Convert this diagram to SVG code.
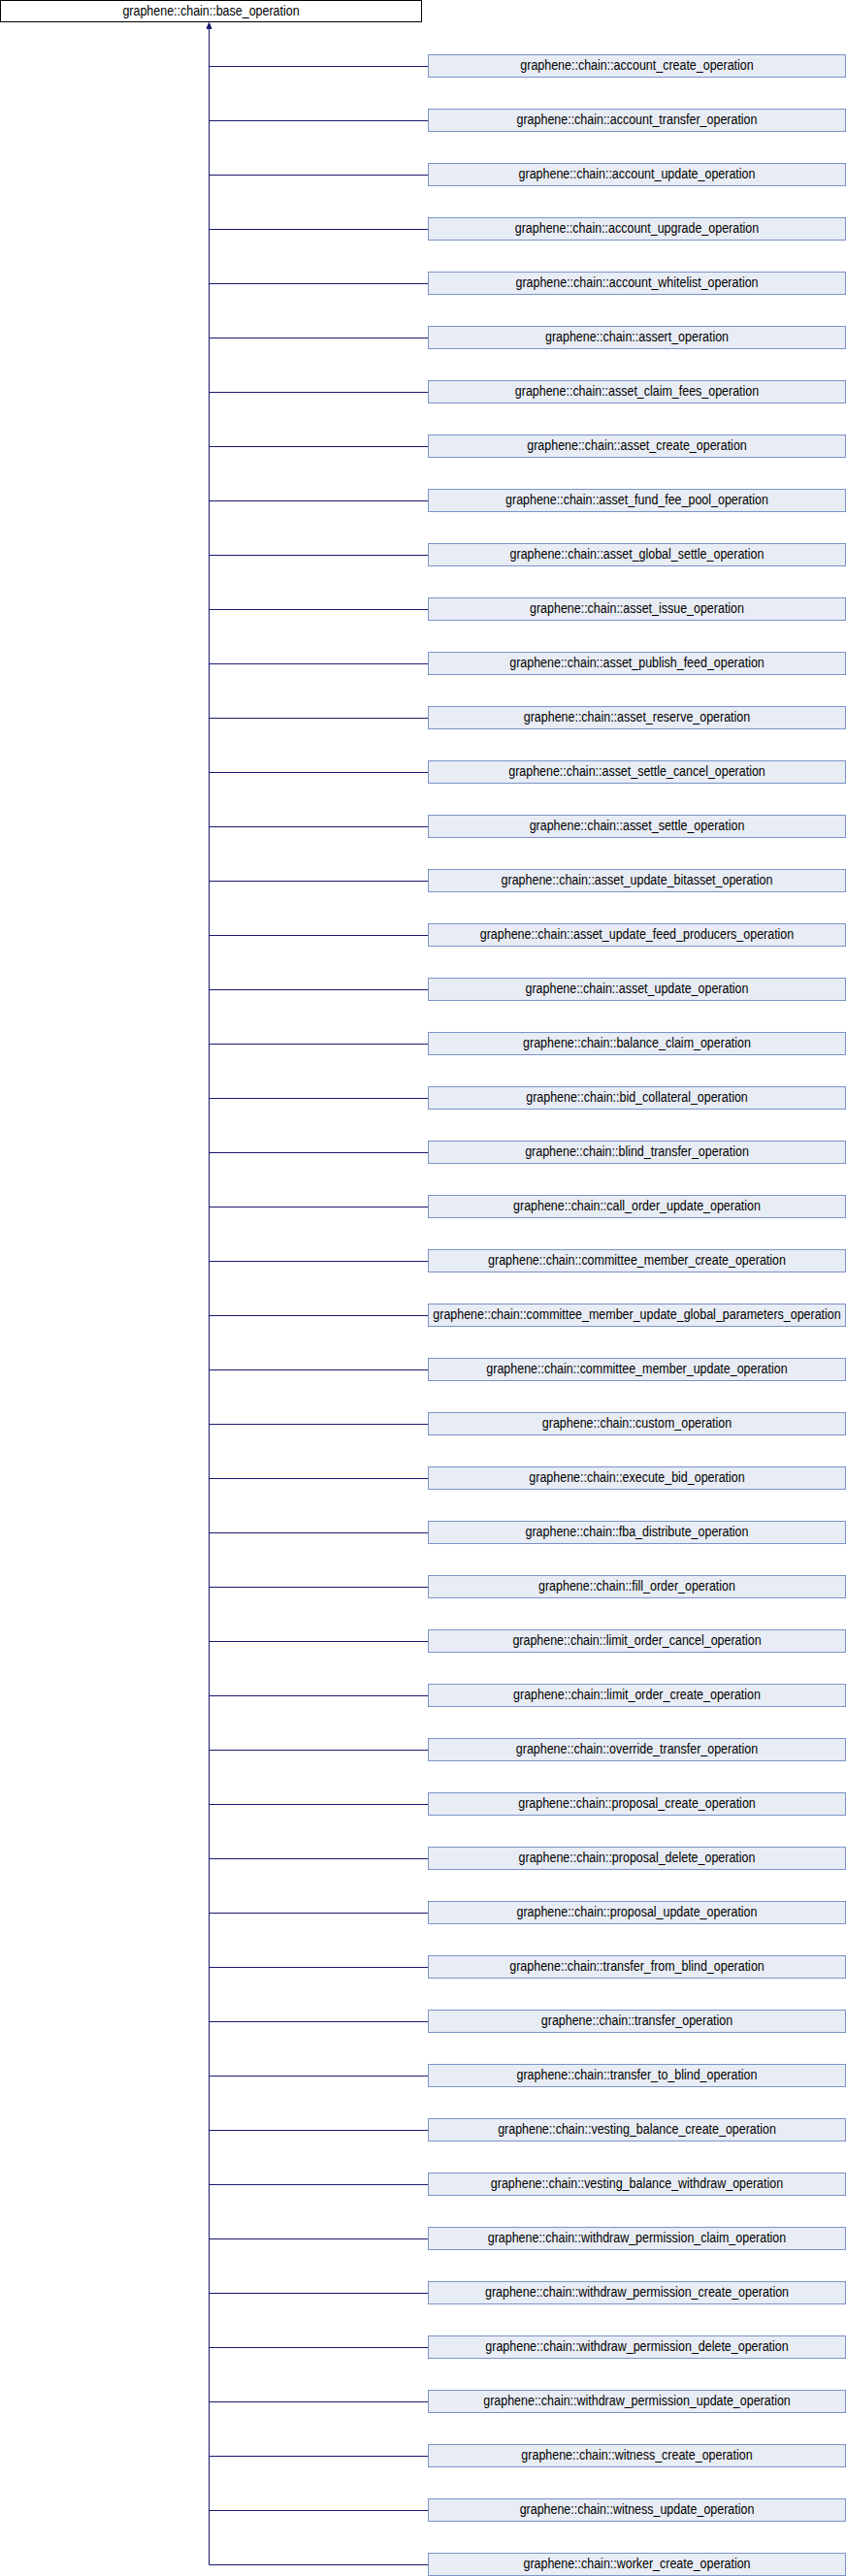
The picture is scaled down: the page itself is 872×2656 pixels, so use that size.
<svg xmlns="http://www.w3.org/2000/svg" width="872" height="2656" viewBox="0 0 872 2656">
<style>
.bg{fill:#ffffff}
.base rect{fill:#ffffff;stroke:#000000;stroke-width:1}
.node rect{fill:#e8ecf5;stroke:#7b93c9;stroke-width:1}
text{font-family:"Liberation Sans",Arial,sans-serif;font-size:14px;fill:#000000;text-anchor:middle}
.edges path{fill:none;stroke:#191970;stroke-width:1}
.edges polygon{fill:#191970;stroke:#191970;stroke-width:1}
</style>
<rect class="bg" x="0" y="0" width="872" height="2656"/>
<g class="edges" id="connectors">
<path d="M215.5 29V2644.5"/>
<polygon points="215.5,23.5 213,29.5 218,29.5"/>
<path d="M215.5 68.5H441M215.5 124.5H441M215.5 180.5H441M215.5 236.5H441M215.5 292.5H441M215.5 348.5H441M215.5 404.5H441M215.5 460.5H441M215.5 516.5H441M215.5 572.5H441M215.5 628.5H441M215.5 684.5H441M215.5 740.5H441M215.5 796.5H441M215.5 852.5H441M215.5 908.5H441M215.5 964.5H441M215.5 1020.5H441M215.5 1076.5H441M215.5 1132.5H441M215.5 1188.5H441M215.5 1244.5H441M215.5 1300.5H441M215.5 1356.5H441M215.5 1412.5H441M215.5 1468.5H441M215.5 1524.5H441M215.5 1580.5H441M215.5 1636.5H441M215.5 1692.5H441M215.5 1748.5H441M215.5 1804.5H441M215.5 1860.5H441M215.5 1916.5H441M215.5 1972.5H441M215.5 2028.5H441M215.5 2084.5H441M215.5 2140.5H441M215.5 2196.5H441M215.5 2252.5H441M215.5 2308.5H441M215.5 2364.5H441M215.5 2420.5H441M215.5 2476.5H441M215.5 2532.5H441M215.5 2588.5H441M215.5 2644.5H441"/>
</g>
<g id="base_operation" class="base" transform="translate(0.5,0.5)"><rect width="434" height="22"/><text transform="translate(217,15.5) scale(0.89,1)">graphene::chain::base_operation</text></g>
<g id="account_create_operation" class="node" transform="translate(441.5,56.5)"><rect width="430" height="23"/><text transform="translate(215,15.5) scale(0.89,1)">graphene::chain::account_create_operation</text></g>
<g id="account_transfer_operation" class="node" transform="translate(441.5,112.5)"><rect width="430" height="23"/><text transform="translate(215,15.5) scale(0.89,1)">graphene::chain::account_transfer_operation</text></g>
<g id="account_update_operation" class="node" transform="translate(441.5,168.5)"><rect width="430" height="23"/><text transform="translate(215,15.5) scale(0.89,1)">graphene::chain::account_update_operation</text></g>
<g id="account_upgrade_operation" class="node" transform="translate(441.5,224.5)"><rect width="430" height="23"/><text transform="translate(215,15.5) scale(0.89,1)">graphene::chain::account_upgrade_operation</text></g>
<g id="account_whitelist_operation" class="node" transform="translate(441.5,280.5)"><rect width="430" height="23"/><text transform="translate(215,15.5) scale(0.89,1)">graphene::chain::account_whitelist_operation</text></g>
<g id="assert_operation" class="node" transform="translate(441.5,336.5)"><rect width="430" height="23"/><text transform="translate(215,15.5) scale(0.89,1)">graphene::chain::assert_operation</text></g>
<g id="asset_claim_fees_operation" class="node" transform="translate(441.5,392.5)"><rect width="430" height="23"/><text transform="translate(215,15.5) scale(0.89,1)">graphene::chain::asset_claim_fees_operation</text></g>
<g id="asset_create_operation" class="node" transform="translate(441.5,448.5)"><rect width="430" height="23"/><text transform="translate(215,15.5) scale(0.89,1)">graphene::chain::asset_create_operation</text></g>
<g id="asset_fund_fee_pool_operation" class="node" transform="translate(441.5,504.5)"><rect width="430" height="23"/><text transform="translate(215,15.5) scale(0.89,1)">graphene::chain::asset_fund_fee_pool_operation</text></g>
<g id="asset_global_settle_operation" class="node" transform="translate(441.5,560.5)"><rect width="430" height="23"/><text transform="translate(215,15.5) scale(0.89,1)">graphene::chain::asset_global_settle_operation</text></g>
<g id="asset_issue_operation" class="node" transform="translate(441.5,616.5)"><rect width="430" height="23"/><text transform="translate(215,15.5) scale(0.89,1)">graphene::chain::asset_issue_operation</text></g>
<g id="asset_publish_feed_operation" class="node" transform="translate(441.5,672.5)"><rect width="430" height="23"/><text transform="translate(215,15.5) scale(0.89,1)">graphene::chain::asset_publish_feed_operation</text></g>
<g id="asset_reserve_operation" class="node" transform="translate(441.5,728.5)"><rect width="430" height="23"/><text transform="translate(215,15.5) scale(0.89,1)">graphene::chain::asset_reserve_operation</text></g>
<g id="asset_settle_cancel_operation" class="node" transform="translate(441.5,784.5)"><rect width="430" height="23"/><text transform="translate(215,15.5) scale(0.89,1)">graphene::chain::asset_settle_cancel_operation</text></g>
<g id="asset_settle_operation" class="node" transform="translate(441.5,840.5)"><rect width="430" height="23"/><text transform="translate(215,15.5) scale(0.89,1)">graphene::chain::asset_settle_operation</text></g>
<g id="asset_update_bitasset_operation" class="node" transform="translate(441.5,896.5)"><rect width="430" height="23"/><text transform="translate(215,15.5) scale(0.89,1)">graphene::chain::asset_update_bitasset_operation</text></g>
<g id="asset_update_feed_producers_operation" class="node" transform="translate(441.5,952.5)"><rect width="430" height="23"/><text transform="translate(215,15.5) scale(0.89,1)">graphene::chain::asset_update_feed_producers_operation</text></g>
<g id="asset_update_operation" class="node" transform="translate(441.5,1008.5)"><rect width="430" height="23"/><text transform="translate(215,15.5) scale(0.89,1)">graphene::chain::asset_update_operation</text></g>
<g id="balance_claim_operation" class="node" transform="translate(441.5,1064.5)"><rect width="430" height="23"/><text transform="translate(215,15.5) scale(0.89,1)">graphene::chain::balance_claim_operation</text></g>
<g id="bid_collateral_operation" class="node" transform="translate(441.5,1120.5)"><rect width="430" height="23"/><text transform="translate(215,15.5) scale(0.89,1)">graphene::chain::bid_collateral_operation</text></g>
<g id="blind_transfer_operation" class="node" transform="translate(441.5,1176.5)"><rect width="430" height="23"/><text transform="translate(215,15.5) scale(0.89,1)">graphene::chain::blind_transfer_operation</text></g>
<g id="call_order_update_operation" class="node" transform="translate(441.5,1232.5)"><rect width="430" height="23"/><text transform="translate(215,15.5) scale(0.89,1)">graphene::chain::call_order_update_operation</text></g>
<g id="committee_member_create_operation" class="node" transform="translate(441.5,1288.5)"><rect width="430" height="23"/><text transform="translate(215,15.5) scale(0.89,1)">graphene::chain::committee_member_create_operation</text></g>
<g id="committee_member_update_global_parameters_operation" class="node" transform="translate(441.5,1344.5)"><rect width="430" height="23"/><text transform="translate(215,15.5) scale(0.89,1)">graphene::chain::committee_member_update_global_parameters_operation</text></g>
<g id="committee_member_update_operation" class="node" transform="translate(441.5,1400.5)"><rect width="430" height="23"/><text transform="translate(215,15.5) scale(0.89,1)">graphene::chain::committee_member_update_operation</text></g>
<g id="custom_operation" class="node" transform="translate(441.5,1456.5)"><rect width="430" height="23"/><text transform="translate(215,15.5) scale(0.89,1)">graphene::chain::custom_operation</text></g>
<g id="execute_bid_operation" class="node" transform="translate(441.5,1512.5)"><rect width="430" height="23"/><text transform="translate(215,15.5) scale(0.89,1)">graphene::chain::execute_bid_operation</text></g>
<g id="fba_distribute_operation" class="node" transform="translate(441.5,1568.5)"><rect width="430" height="23"/><text transform="translate(215,15.5) scale(0.89,1)">graphene::chain::fba_distribute_operation</text></g>
<g id="fill_order_operation" class="node" transform="translate(441.5,1624.5)"><rect width="430" height="23"/><text transform="translate(215,15.5) scale(0.89,1)">graphene::chain::fill_order_operation</text></g>
<g id="limit_order_cancel_operation" class="node" transform="translate(441.5,1680.5)"><rect width="430" height="23"/><text transform="translate(215,15.5) scale(0.89,1)">graphene::chain::limit_order_cancel_operation</text></g>
<g id="limit_order_create_operation" class="node" transform="translate(441.5,1736.5)"><rect width="430" height="23"/><text transform="translate(215,15.5) scale(0.89,1)">graphene::chain::limit_order_create_operation</text></g>
<g id="override_transfer_operation" class="node" transform="translate(441.5,1792.5)"><rect width="430" height="23"/><text transform="translate(215,15.5) scale(0.89,1)">graphene::chain::override_transfer_operation</text></g>
<g id="proposal_create_operation" class="node" transform="translate(441.5,1848.5)"><rect width="430" height="23"/><text transform="translate(215,15.5) scale(0.89,1)">graphene::chain::proposal_create_operation</text></g>
<g id="proposal_delete_operation" class="node" transform="translate(441.5,1904.5)"><rect width="430" height="23"/><text transform="translate(215,15.5) scale(0.89,1)">graphene::chain::proposal_delete_operation</text></g>
<g id="proposal_update_operation" class="node" transform="translate(441.5,1960.5)"><rect width="430" height="23"/><text transform="translate(215,15.5) scale(0.89,1)">graphene::chain::proposal_update_operation</text></g>
<g id="transfer_from_blind_operation" class="node" transform="translate(441.5,2016.5)"><rect width="430" height="23"/><text transform="translate(215,15.5) scale(0.89,1)">graphene::chain::transfer_from_blind_operation</text></g>
<g id="transfer_operation" class="node" transform="translate(441.5,2072.5)"><rect width="430" height="23"/><text transform="translate(215,15.5) scale(0.89,1)">graphene::chain::transfer_operation</text></g>
<g id="transfer_to_blind_operation" class="node" transform="translate(441.5,2128.5)"><rect width="430" height="23"/><text transform="translate(215,15.5) scale(0.89,1)">graphene::chain::transfer_to_blind_operation</text></g>
<g id="vesting_balance_create_operation" class="node" transform="translate(441.5,2184.5)"><rect width="430" height="23"/><text transform="translate(215,15.5) scale(0.89,1)">graphene::chain::vesting_balance_create_operation</text></g>
<g id="vesting_balance_withdraw_operation" class="node" transform="translate(441.5,2240.5)"><rect width="430" height="23"/><text transform="translate(215,15.5) scale(0.89,1)">graphene::chain::vesting_balance_withdraw_operation</text></g>
<g id="withdraw_permission_claim_operation" class="node" transform="translate(441.5,2296.5)"><rect width="430" height="23"/><text transform="translate(215,15.5) scale(0.89,1)">graphene::chain::withdraw_permission_claim_operation</text></g>
<g id="withdraw_permission_create_operation" class="node" transform="translate(441.5,2352.5)"><rect width="430" height="23"/><text transform="translate(215,15.5) scale(0.89,1)">graphene::chain::withdraw_permission_create_operation</text></g>
<g id="withdraw_permission_delete_operation" class="node" transform="translate(441.5,2408.5)"><rect width="430" height="23"/><text transform="translate(215,15.5) scale(0.89,1)">graphene::chain::withdraw_permission_delete_operation</text></g>
<g id="withdraw_permission_update_operation" class="node" transform="translate(441.5,2464.5)"><rect width="430" height="23"/><text transform="translate(215,15.5) scale(0.89,1)">graphene::chain::withdraw_permission_update_operation</text></g>
<g id="witness_create_operation" class="node" transform="translate(441.5,2520.5)"><rect width="430" height="23"/><text transform="translate(215,15.5) scale(0.89,1)">graphene::chain::witness_create_operation</text></g>
<g id="witness_update_operation" class="node" transform="translate(441.5,2576.5)"><rect width="430" height="23"/><text transform="translate(215,15.5) scale(0.89,1)">graphene::chain::witness_update_operation</text></g>
<g id="worker_create_operation" class="node" transform="translate(441.5,2632.5)"><rect width="430" height="23"/><text transform="translate(215,15.5) scale(0.89,1)">graphene::chain::worker_create_operation</text></g>
</svg>
